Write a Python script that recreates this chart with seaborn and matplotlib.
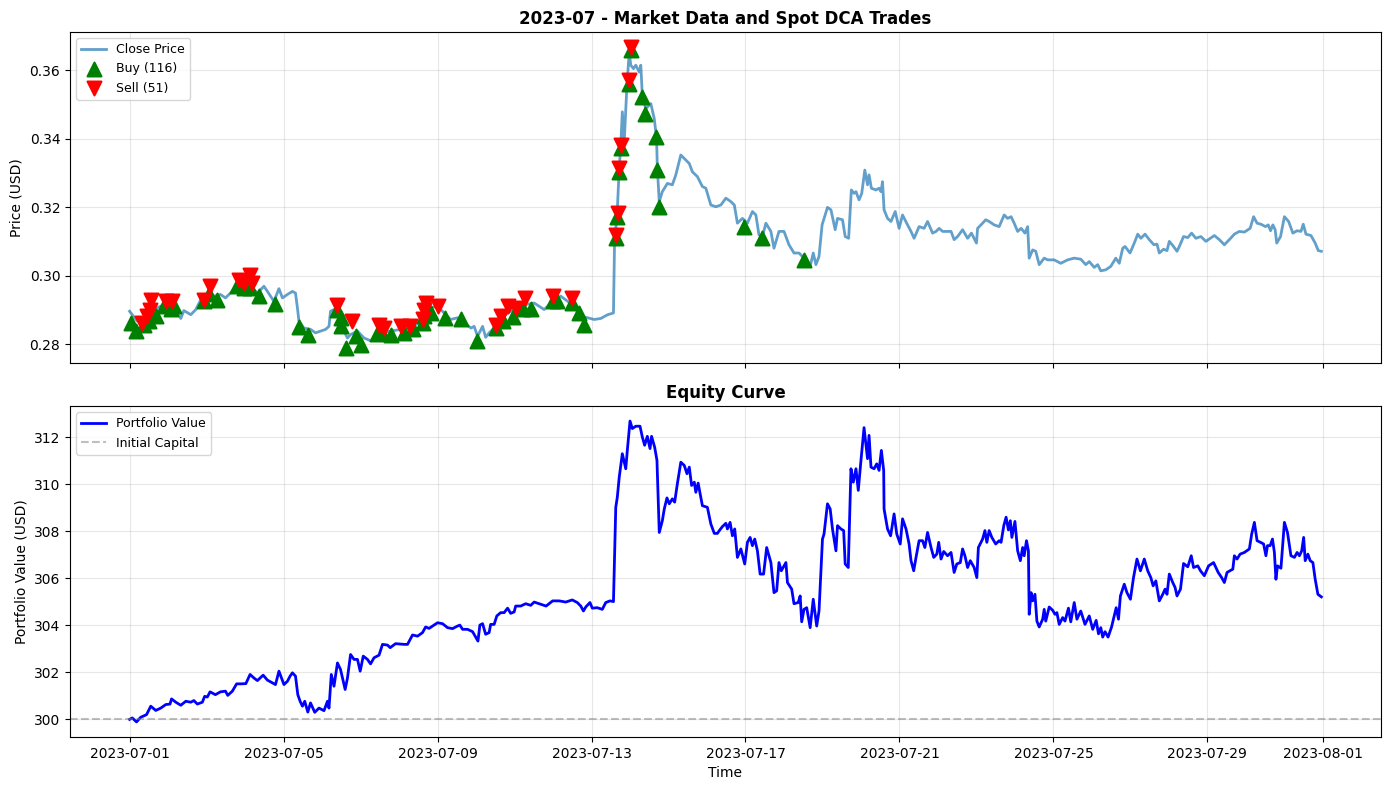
import numpy as np
import pandas as pd
import matplotlib
matplotlib.use("Agg")
import matplotlib.pyplot as plt
import matplotlib.dates as mdates
import seaborn as sns

# ---------------- data ----------------
start = pd.Timestamp("2023-07-01")

price_days = [0.00, 0.20, 0.37, 0.55, 0.81, 1.07, 1.24, 1.33, 1.41, 1.59, 1.72, 1.85, 2.02, 2.19, 2.36, 2.49,
              2.62, 2.80, 2.97, 3.14, 3.32, 3.49, 3.58, 3.75, 3.88, 3.97, 4.10, 4.23, 4.31, 4.36, 4.40, 4.53,
              4.70, 4.83, 4.96, 5.09, 5.18, 5.22, 5.31, 5.48, 5.57, 5.66, 5.74, 5.92, 6.09,
              6.26, 6.35, 6.52, 6.78, 7.04, 7.30, 7.56, 7.69, 7.82, 8.00, 8.17, 8.34, 8.52, 8.69, 8.87, 8.95,
              9.04, 9.17, 9.25, 9.34, 9.47, 9.64, 9.82, 9.99, 10.25, 10.51, 10.77, 10.99, 11.20, 11.38, 11.55,
              11.72, 11.90, 12.07, 12.24, 12.42, 12.57,
              12.60, 12.66, 12.72, 12.76, 12.80, 12.85, 12.92, 12.98, 13.02, 13.09, 13.15, 13.24, 13.28, 13.32,
              13.41, 13.54, 13.63, 13.69, 13.71, 13.76, 13.84, 13.97, 14.10, 14.19, 14.32, 14.45, 14.54, 14.62,
              14.75, 14.88, 14.97, 15.10, 15.23, 15.36, 15.49, 15.62, 15.71, 15.79, 15.92, 16.05, 16.18, 16.27,
              16.35, 16.44, 16.53, 16.66, 16.74, 16.87, 17.00, 17.13, 17.26, 17.39, 17.52,
              17.57, 17.68, 17.76, 17.83, 17.91, 17.99, 18.13, 18.22, 18.33, 18.39, 18.52, 18.59, 18.68, 18.75,
              18.82, 18.87, 18.95, 19.02, 19.10, 19.17, 19.21, 19.27, 19.39, 19.47, 19.52, 19.56, 19.60, 19.69,
              19.78, 19.89, 19.99, 20.08, 20.21, 20.30, 20.38, 20.51, 20.64, 20.73, 20.86, 20.95, 21.03, 21.12,
              21.25, 21.34, 21.42, 21.51, 21.64, 21.77, 21.87, 22.00, 22.03, 22.16, 22.24, 22.33, 22.46, 22.59,
              22.72, 22.81, 22.90, 22.98, 23.07, 23.16, 23.26, 23.33, 23.37, 23.46, 23.54, 23.63, 23.76, 23.85,
              24.02, 24.19, 24.37, 24.54,
              24.71, 24.84, 24.93, 25.06, 25.15, 25.23, 25.36, 25.49, 25.62, 25.71, 25.80, 25.86, 25.99, 26.10,
              26.19, 26.27, 26.38, 26.49, 26.61, 26.69, 26.75, 26.86, 26.95, 27.01, 27.10, 27.21, 27.27, 27.38,
              27.49, 27.59, 27.70, 27.83, 27.96, 28.18, 28.31, 28.44, 28.57, 28.70, 28.83, 28.96, 29.11, 29.20,
              29.29, 29.39, 29.51, 29.58, 29.64, 29.70, 29.76, 29.80, 29.90, 30.00, 30.11, 30.22, 30.33, 30.43,
              30.49, 30.56, 30.69, 30.80, 30.88, 30.96]
close_price = [0.2896, 0.2867, 0.2872, 0.2896, 0.2911, 0.2904, 0.2891, 0.2875, 0.2898, 0.2886, 0.2901, 0.2930,
               0.2930, 0.2940, 0.2945, 0.2935, 0.2949, 0.2974, 0.2964, 0.2969, 0.2949, 0.2969, 0.2954, 0.2925,
               0.2962, 0.2935, 0.2945, 0.2954, 0.2949, 0.2906, 0.2867, 0.2847, 0.2843, 0.2833, 0.2838, 0.2843,
               0.2852, 0.2896, 0.2901, 0.2877, 0.2838, 0.2818, 0.2828, 0.2838, 0.2818,
               0.2810, 0.2818, 0.2833, 0.2838, 0.2843, 0.2847, 0.2867, 0.2891, 0.2906, 0.2911, 0.2891, 0.2872,
               0.2877, 0.2862, 0.2847, 0.2852, 0.2823, 0.2852, 0.2820, 0.2833, 0.2847, 0.2872, 0.2891, 0.2901,
               0.2915, 0.2920, 0.2901, 0.2925, 0.2940, 0.2925, 0.2911, 0.2881, 0.2877, 0.2872, 0.2875, 0.2886,
               0.2891,
               0.3109, 0.3167, 0.3313, 0.3381, 0.3478, 0.3391, 0.3555, 0.3652, 0.3614, 0.3604, 0.3614, 0.3594,
               0.3614, 0.3526, 0.3487, 0.3502, 0.3458, 0.3400, 0.3313, 0.3216, 0.3245, 0.3269, 0.3265, 0.3294,
               0.3352, 0.3337, 0.3327, 0.3303, 0.3289, 0.3260, 0.3255, 0.3206, 0.3201, 0.3206, 0.3226, 0.3216,
               0.3206, 0.3153, 0.3167, 0.3153, 0.3187, 0.3177, 0.3119, 0.3114, 0.3153, 0.3129, 0.3080, 0.3129,
               0.3129, 0.3090, 0.3066, 0.3066, 0.3051,
               0.3041, 0.3027, 0.3066, 0.3032, 0.3056, 0.3148, 0.3199, 0.3192, 0.3134, 0.3167, 0.3163, 0.3114,
               0.3109, 0.3250, 0.3240, 0.3245, 0.3221, 0.3240, 0.3308, 0.3265, 0.3294, 0.3255, 0.3250, 0.3255,
               0.3245, 0.3274, 0.3192, 0.3167, 0.3158, 0.3187, 0.3138, 0.3177, 0.3148, 0.3129, 0.3109, 0.3143,
               0.3138, 0.3158, 0.3124, 0.3129, 0.3138, 0.3129, 0.3129, 0.3129, 0.3105, 0.3114, 0.3134, 0.3109,
               0.3124, 0.3095, 0.3138, 0.3153, 0.3163, 0.3158, 0.3148, 0.3143, 0.3177, 0.3167, 0.3172, 0.3153,
               0.3129, 0.3138, 0.3124, 0.3143, 0.3051, 0.3075, 0.3071, 0.3032, 0.3051, 0.3046, 0.3046, 0.3036,
               0.3046, 0.3051,
               0.3048, 0.3032, 0.3041, 0.3024, 0.3032, 0.3014, 0.3017, 0.3027, 0.3051, 0.3036, 0.3080, 0.3085,
               0.3066, 0.3095, 0.3121, 0.3109, 0.3121, 0.3105, 0.3090, 0.3092, 0.3066, 0.3077, 0.3073, 0.3100,
               0.3088, 0.3071, 0.3085, 0.3114, 0.3111, 0.3124, 0.3109, 0.3114, 0.3100, 0.3117, 0.3105, 0.3090,
               0.3105, 0.3121, 0.3129, 0.3127, 0.3138, 0.3172, 0.3153, 0.3150, 0.3143, 0.3148, 0.3131, 0.3148,
               0.3134, 0.3095, 0.3114, 0.3172, 0.3158, 0.3124, 0.3131, 0.3129, 0.3150, 0.3121, 0.3117, 0.3095,
               0.3073, 0.3071]

buy_days = [0.03, 0.16, 0.37, 0.50, 0.68, 0.89, 1.07, 1.15, 1.93, 2.06, 2.26, 2.80, 2.97, 3.14, 3.36, 3.78,
            4.40, 4.63, 5.40, 5.48, 5.48, 5.61, 5.87, 6.00, 6.44, 6.57, 6.78, 7.13, 7.35, 7.61, 7.65, 7.82,
            8.19, 8.60, 9.02, 9.51, 9.69, 9.95, 10.21, 10.42, 10.99, 11.11, 11.50, 11.68, 11.81,
            12.63, 12.67, 12.72, 12.76, 12.98, 13.02, 13.32, 13.38, 13.67, 13.71, 13.76, 15.96, 16.42, 17.52]
buy_prices = [0.2862, 0.2838, 0.2857, 0.2867, 0.2881, 0.2911, 0.2904, 0.2911, 0.2925, 0.2945, 0.2930, 0.2969,
              0.2964, 0.2964, 0.2940, 0.2917, 0.2849, 0.2826, 0.2901, 0.2877, 0.2852, 0.2789, 0.2823, 0.2799,
              0.2830, 0.2833, 0.2828, 0.2833, 0.2843, 0.2862, 0.2881, 0.2891, 0.2875, 0.2872, 0.2809, 0.2847,
              0.2867, 0.2879, 0.2904, 0.2904, 0.2925, 0.2925, 0.2920, 0.2891, 0.2857,
              0.3109, 0.3172, 0.3303, 0.3371, 0.3560, 0.3657, 0.3521, 0.3473, 0.3405, 0.3308, 0.3201, 0.3143,
              0.3109, 0.3046]
sell_days = [0.33, 0.46, 0.53, 0.55, 0.94, 1.11, 1.93, 2.10, 2.84, 2.97, 3.14, 3.19, 5.40, 5.79, 6.48, 6.61,
             7.04, 7.29, 7.61, 7.65, 7.69, 8.00, 9.51, 9.64, 9.82, 10.03, 10.27, 10.99, 11.50,
             12.63, 12.69, 12.72, 12.76, 12.98, 13.02]
sell_prices = [0.2862, 0.2881, 0.2901, 0.2930, 0.2925, 0.2925, 0.2930, 0.2969, 0.2988, 0.2978, 0.3003, 0.2978,
               0.2915, 0.2869, 0.2857, 0.2847, 0.2854, 0.2854, 0.2872, 0.2901, 0.2920, 0.2911, 0.2857, 0.2881,
               0.2911, 0.2906, 0.2935, 0.2940, 0.2935, 0.3119, 0.3182, 0.3313, 0.3381, 0.3570, 0.3667]
n_buys = 116
n_sells = 51

equity_days = [0.00, 0.07, 0.18, 0.29, 0.44, 0.55, 0.68, 0.81, 0.94, 1.05, 1.09, 1.20, 1.33, 1.46, 1.59, 1.67,
               1.76, 1.89, 1.95, 2.02, 2.09, 2.23, 2.36, 2.49, 2.55, 2.67, 2.78, 2.89, 3.02, 3.13, 3.23, 3.32,
               3.47, 3.58, 3.71, 3.79, 3.88, 4.01, 4.10, 4.17, 4.23, 4.31, 4.37, 4.43, 4.49, 4.55, 4.63, 4.70,
               4.81, 4.92, 5.05, 5.14, 5.18, 5.24, 5.31, 5.40, 5.48, 5.60, 5.66, 5.74, 5.83, 5.92, 5.99, 6.07,
               6.18, 6.26, 6.35,
               6.48, 6.57, 6.70, 6.77, 6.91, 7.13, 7.22, 7.35, 7.48, 7.61, 7.69, 7.78, 7.87, 8.00, 8.13, 8.26,
               8.39, 8.52, 8.58, 8.65, 8.78, 8.91, 9.00, 9.05, 9.10, 9.17, 9.25, 9.34, 9.38, 9.47, 9.54, 9.64,
               9.73, 9.82, 9.90, 9.99, 10.03, 10.16, 10.29, 10.42, 10.51, 10.64, 10.82, 10.99, 11.16, 11.33,
               11.50, 11.63, 11.72, 11.79, 11.85, 11.96, 12.02, 12.15, 12.28, 12.37, 12.48, 12.57,
               12.63, 12.67, 12.72, 12.80, 12.89, 12.93, 13.00, 13.06, 13.15, 13.26, 13.32, 13.38, 13.45, 13.52,
               13.56, 13.64, 13.70, 13.76, 13.84, 13.89, 13.96, 14.02, 14.10, 14.16, 14.23, 14.32, 14.41, 14.48,
               14.54, 14.60, 14.67, 14.71, 14.77, 14.88, 15.01, 15.10, 15.19, 15.27, 15.32, 15.40, 15.49, 15.53,
               15.60, 15.66, 15.72, 15.79, 15.88, 15.98, 16.05, 16.12, 16.18, 16.24, 16.31, 16.38, 16.47, 16.55,
               16.66, 16.74, 16.81, 16.87, 16.93, 17.05, 17.09, 17.20, 17.26, 17.37, 17.42, 17.46, 17.52, 17.59,
               17.68, 17.76, 17.85, 17.91, 18.00, 18.04, 18.13, 18.20, 18.26, 18.35, 18.39, 18.48, 18.55, 18.59,
               18.67, 18.74, 18.80, 18.87, 18.93, 19.00, 19.08, 19.17, 19.21, 19.26,
               19.34, 19.41, 19.47, 19.53, 19.59, 19.60, 19.69, 19.77, 19.86, 19.93, 20.02, 20.08, 20.17, 20.25,
               20.30, 20.37, 20.43, 20.51, 20.60, 20.66, 20.73, 20.82, 20.89, 20.97, 21.02, 21.08, 21.15, 21.25,
               21.34, 21.42, 21.49, 21.58, 21.64, 21.70, 21.77, 21.84, 21.94, 22.01, 22.05, 22.16, 22.22, 22.27,
               22.33, 22.40, 22.50, 22.59, 22.64, 22.71, 22.77, 22.83, 22.88, 22.92, 23.00, 23.07, 23.14, 23.20,
               23.24, 23.30, 23.35, 23.37, 23.42, 23.46, 23.52, 23.57, 23.63, 23.72, 23.76, 23.80, 23.89, 23.98,
               24.04, 24.09, 24.15, 24.24, 24.30, 24.39, 24.45, 24.54, 24.61, 24.71, 24.82, 24.93, 25.02, 25.11,
               25.17, 25.23, 25.28, 25.34, 25.42, 25.51, 25.63, 25.69, 25.74, 25.84, 25.91, 26.00,
               26.08, 26.17, 26.26, 26.36, 26.45, 26.53, 26.59, 26.66, 26.75, 26.84, 26.90, 26.95, 27.01, 27.10,
               27.16, 27.21, 27.30, 27.38, 27.49, 27.58, 27.64, 27.75, 27.82, 27.92, 28.03, 28.16, 28.28, 28.37,
               28.44, 28.51, 28.66, 28.70, 28.77, 28.85, 28.96, 29.09, 29.15, 29.22, 29.29, 29.38, 29.46, 29.52,
               29.56, 29.63, 29.69, 29.74, 29.78, 29.82, 29.91, 30.00, 30.08, 30.17, 30.26, 30.33, 30.39, 30.45,
               30.50, 30.54, 30.61, 30.67, 30.74, 30.80, 30.87, 30.93, 30.96]
portfolio_value = [300.00, 300.06, 299.89, 300.09, 300.20, 300.56, 300.38, 300.48, 300.63, 300.65, 300.87, 300.73,
                   300.60, 300.77, 300.73, 300.80, 300.65, 300.73, 300.98, 300.95, 301.17, 301.05, 301.17, 301.20,
                   301.02, 301.20, 301.51, 301.51, 301.52, 301.91, 301.76, 301.65, 301.88, 301.67, 301.55, 301.48,
                   302.05, 301.48, 301.62, 301.84, 301.98, 301.84, 301.05, 300.77, 300.56, 300.77, 300.31, 300.70,
                   300.30, 300.48, 300.37, 300.77, 300.48, 301.91, 301.41, 302.40, 302.12, 301.27, 301.76, 302.76,
                   302.55, 302.55, 302.05, 302.69, 302.55, 302.36, 302.62,
                   302.73, 303.19, 303.16, 303.05, 303.22, 303.19, 303.19, 303.59, 303.54, 303.69, 303.93, 303.87,
                   303.97, 304.11, 304.07, 303.90, 303.86, 303.97, 304.01, 303.83, 303.83, 303.73, 303.47, 303.33,
                   304.01, 304.07, 303.62, 303.69, 304.04, 304.04, 304.40, 304.54, 304.54, 304.73, 304.51, 304.57,
                   304.82, 304.82, 304.92, 304.85, 304.99, 304.92, 304.82, 305.04, 305.04, 304.99, 305.08, 304.97,
                   304.82, 304.61, 304.78, 304.97, 304.73, 304.75, 304.68, 304.97, 305.04, 305.01,
                   309.02, 309.45, 310.30, 311.30, 310.66, 311.44, 312.69, 312.37, 312.47, 312.47, 312.01, 311.66,
                   312.04, 311.52, 312.04, 311.58, 311.02, 307.95, 308.45, 308.95, 309.42, 309.17, 309.38, 309.24,
                   310.02, 310.94, 310.80, 310.45, 310.73, 309.95, 310.09, 309.66, 310.05, 309.09, 309.02, 308.31,
                   307.91, 307.91, 308.03, 308.20, 308.34, 308.10, 308.38, 307.81, 308.10, 306.89, 307.25, 306.61,
                   307.53, 307.74, 307.39, 307.67, 307.17, 306.18, 306.18, 307.31, 306.67, 305.39, 305.47, 306.67,
                   306.32, 306.67, 305.82, 305.54, 304.92, 304.97, 305.25, 304.15, 304.68, 304.75, 303.90, 305.11,
                   303.97, 304.61, 307.67, 307.88, 309.17, 308.95, 308.10, 307.17, 308.24, 308.10, 308.03, 306.61,
                   306.46, 310.66, 310.09, 310.66, 309.74, 311.02, 312.41, 311.09, 312.08, 310.73,
                   310.66, 310.87, 310.59, 311.44, 310.59, 308.95, 308.10, 307.81, 308.74, 307.88, 307.46, 308.53,
                   308.10, 307.46, 306.75, 306.32, 306.89, 307.60, 307.60, 307.31, 307.95, 307.31, 306.89, 307.03,
                   307.53, 306.82, 307.14, 306.96, 307.10, 306.25, 306.61, 306.67, 307.25, 306.96, 306.46, 306.75,
                   306.46, 306.03, 307.31, 307.67, 308.03, 307.53, 308.03, 307.74, 307.46, 307.60, 307.53, 308.24,
                   308.60, 308.06, 308.45, 307.74, 308.42, 307.17, 306.75, 307.31, 306.96, 307.60, 307.17, 304.47,
                   305.39, 305.04, 305.32, 304.18, 303.93, 304.26, 304.68, 304.18, 304.78, 304.64, 304.47, 304.54,
                   304.04, 304.33, 304.18, 304.73, 304.15, 304.97, 304.26, 304.61, 304.04, 304.40, 303.83, 304.21,
                   303.64, 303.90, 303.50, 303.73, 303.50, 303.93, 304.75, 304.26, 305.25, 305.75, 305.39, 305.11,
                   306.03, 306.82, 306.32, 306.82, 306.32, 306.03, 305.68, 305.89, 305.04, 305.32, 305.54, 305.32,
                   306.18, 305.82, 305.61, 305.25, 305.54, 306.63, 306.49, 306.96, 306.46, 306.53, 306.32, 306.11,
                   306.53, 306.67, 306.25, 306.03, 305.82, 306.25, 306.39, 306.96, 306.82, 307.03, 307.10, 307.25,
                   307.88, 308.38, 307.60, 307.53, 307.46, 306.96, 307.39, 307.39, 307.67, 307.10, 305.96, 306.53,
                   306.43, 308.38, 307.95, 306.96, 306.89, 307.10, 306.96, 307.17, 307.74, 306.75, 307.03, 306.75,
                   306.67, 305.96, 305.32, 305.25, 305.21]
initial_capital = 300

# ---------------- frames ----------------
def to_time(days):
    return start + pd.to_timedelta(np.array(days), unit="D")

price_df = pd.DataFrame({"time": to_time(price_days), "close": close_price})
buy_df = pd.DataFrame({"time": to_time(buy_days), "price": buy_prices})
sell_df = pd.DataFrame({"time": to_time(sell_days), "price": sell_prices})
eq_df = pd.DataFrame({"time": to_time(equity_days), "value": portfolio_value})

# ---------------- plot ----------------
fig, (ax1, ax2) = plt.subplots(2, 1, figsize=(13.89, 7.90), dpi=100, sharex=True)
fig.subplots_adjust(left=0.0504, right=0.9942, top=0.9595, bottom=0.0671, hspace=0.13)

sns.lineplot(data=price_df, x="time", y="close", ax=ax1, color="#1f77b4", alpha=0.7,
             linewidth=2, label="Close Price", estimator=None, sort=False)
sns.scatterplot(data=buy_df, x="time", y="price", ax=ax1, color="green", marker="^", s=100,
                edgecolor="face", linewidth=1.5, zorder=5, label=f"Buy ({n_buys})")
sns.scatterplot(data=sell_df, x="time", y="price", ax=ax1, color="red", marker="v", s=100,
                edgecolor="face", linewidth=1.5, zorder=5, label=f"Sell ({n_sells})")
ax1.set_title("2023-07 - Market Data and Spot DCA Trades", fontsize=12, fontweight="bold")
ax1.set_ylabel("Price (USD)")
ax1.set_xlabel("")
ax1.grid(True, alpha=0.3)
ax1.legend(loc="upper left", fontsize=9)

sns.lineplot(data=eq_df, x="time", y="value", ax=ax2, color="blue", linewidth=2,
             label="Portfolio Value", estimator=None, sort=False)
ax2.axhline(initial_capital, color="gray", linestyle="--", alpha=0.5, linewidth=1.5, label="Initial Capital")
ax2.set_title("Equity Curve", fontsize=12, fontweight="bold")
ax2.set_ylabel("Portfolio Value (USD)")
ax2.set_xlabel("Time")
ax2.grid(True, alpha=0.3)
ax2.legend(loc="upper left", fontsize=9)

ax2.xaxis.set_major_locator(mdates.DayLocator(bymonthday=[1, 5, 9, 13, 17, 21, 25, 29]))
ax2.xaxis.set_major_formatter(mdates.DateFormatter("%Y-%m-%d"))

fig.savefig("out.png", dpi=100)
